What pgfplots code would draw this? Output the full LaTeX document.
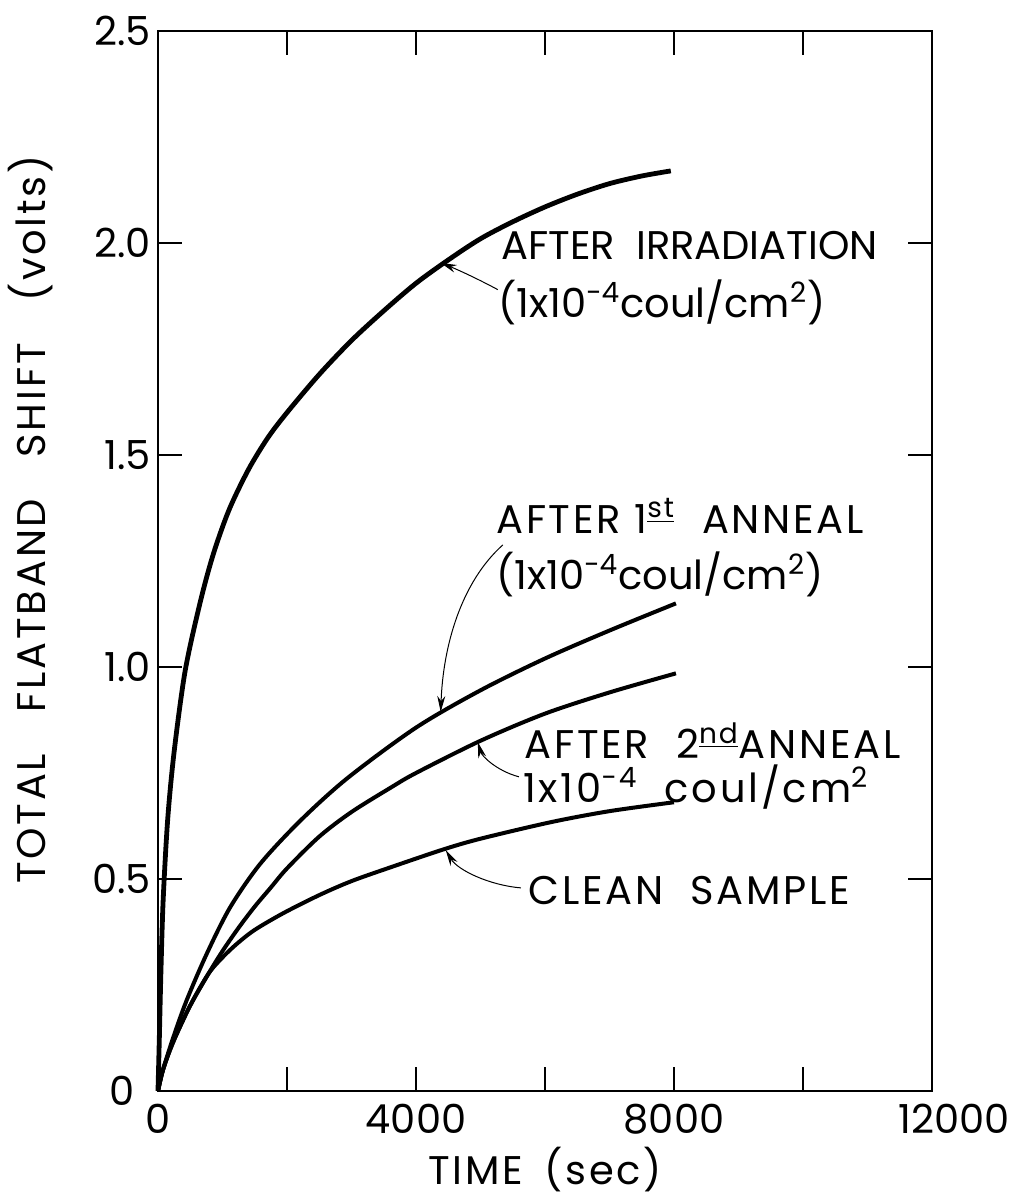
\documentclass[border=0pt]{standalone}
\usepackage{pgfplots}
\pgfplotsset{compat=1.18}
\usepackage{fontspec}
\setmainfont{Poppins}
\newfontfamily\wide[LetterSpace=7]{Poppins}
\usetikzlibrary{arrows.meta}
\newcommand{\bigf}{\fontsize{20}{24}\selectfont}
\begin{document}
\begin{tikzpicture}
\path[use as bounding box] (-79pt,-55.5pt) rectangle (431pt,545.5pt);
\begin{axis}[
  scale only axis, width=387pt, height=530pt,
  at={(0,0)}, anchor=south west,
  xmin=0, xmax=12000, ymin=0, ymax=2.5,
  xtick={0,2000,4000,6000,8000,10000,12000},
  xticklabels={0,,4000,,8000,,\hspace*{22pt}12000},
  ytick={0,0.5,1.0,1.5,2.0,2.5},
  yticklabels={0\hspace*{8pt},0.5,1.0,1.5,2.0,2.5},
  scaled x ticks=false,
  major tick length=12pt,
  axis line style={line width=1pt},
  every tick/.style={line width=0.8pt, black},
  tick label style={font=\bigf},
  xticklabel style={yshift=-3pt},
  /pgf/number format/assume math mode=true,
  label style={font=\bigf\wide},
  xlabel={TIME\hspace{4pt} (sec)},
  ylabel={TOTAL\hspace{14pt} FLATBAND\hspace{14pt} SHIFT\hspace{14pt} (volts)},
  xlabel style={at={(axis description cs:0.5,-0.0745)}, anchor=center},
  ylabel style={at={(axis description cs:-0.165,0.539)}, anchor=center},
  clip=false,
]
% After irradiation
\addplot[black, line width=2.4pt, smooth, tension=0.5] coordinates {
(0,0) (20,0.12) (45,0.28) (80,0.45) (150,0.64) (250,0.80) (420,0.99)
(650,1.15) (855,1.265) (1100,1.37) (1400,1.465) (1700,1.54) (2000,1.60)
(2500,1.69) (3000,1.77) (3500,1.84) (4000,1.905) (4500,1.96) (5000,2.01)
(5500,2.05) (6000,2.085) (6500,2.115) (7000,2.14) (7500,2.158) (7950,2.17)};
% After 1st anneal
\addplot[black, line width=2pt, smooth, tension=0.5] coordinates {
(0,0) (78,0.05) (234,0.125) (442,0.213) (754,0.323) (1118,0.433) (1586,0.536)
(2210,0.638) (2938,0.738) (4000,0.857) (5000,0.945) (6000,1.020) (7000,1.086)
(8030,1.150)};
% After 2nd anneal
\addplot[black, line width=2pt, smooth, tension=0.5] coordinates {
(0,0) (78,0.05) (234,0.115) (494,0.20) (780,0.276) (1000,0.33) (1250,0.385)
(1500,0.435) (1750,0.48) (2000,0.525) (2500,0.60) (3000,0.658) (3614,0.716)
(4000,0.75) (5000,0.826) (6000,0.89) (7000,0.94) (8030,0.985)};
% Clean sample
\addplot[black, line width=2pt, smooth, tension=0.5] coordinates {
(0,0) (78,0.05) (234,0.115) (494,0.20) (780,0.276) (1000,0.315) (1222,0.347)
(1500,0.38) (1950,0.42) (2500,0.462) (3000,0.495) (3614,0.528) (4430,0.57)
(5000,0.595) (6090,0.634) (7000,0.66) (8000,0.681)};

% labels
\node[anchor=base west, font=\bigf, inner sep=0pt] at (axis cs:5316,1.960) {AFTER~ IRRADIATION};
\node[anchor=base west, font=\bigf, inner sep=0pt] at (axis cs:5269,1.825) {(1x10\textsuperscript{-4}coul/cm\textsuperscript{2})};
\node[anchor=base west, font=\bigf\wide, inner sep=0pt] at (axis cs:5238,1.316) {AFTER 1\textsuperscript{\underline{st}}~ ANNEAL};
\node[anchor=base west, font=\bigf, inner sep=0pt] at (axis cs:5238,1.182) {(1x10\textsuperscript{-4}coul/cm\textsuperscript{2})};
\node[anchor=base west, font=\bigf\wide, inner sep=0pt] at (axis cs:5674,0.785) {AFTER~ 2\textsuperscript{\underline{nd}}ANNEAL};
\node[anchor=base west, font=\bigf\wide, inner sep=0pt] at (axis cs:5658,0.680) {1x10\textsuperscript{-4}~ coul/cm\textsuperscript{2}};
\node[anchor=base west, font=\bigf\wide, inner sep=0pt] at (axis cs:5736,0.439) {CLEAN~ SAMPLE};

% leaders
\draw[line width=0.5pt, -{Stealth[length=8pt,width=4pt]}] (axis cs:5268,1.890) .. controls (axis cs:4900,1.92) and (axis cs:4600,1.94) .. (axis cs:4383,1.953);
\draw[line width=0.5pt, -{Stealth[length=8pt,width=4pt]}] (axis cs:5347,1.288) .. controls (axis cs:4700,1.20) and (axis cs:4420,1.05) .. (axis cs:4383,0.894);
\draw[line width=0.5pt, -{Stealth[length=8pt,width=4pt]}] (axis cs:5596,0.741) .. controls (axis cs:5250,0.755) and (axis cs:5020,0.79) .. (axis cs:4958,0.823);
\draw[line width=0.5pt, -{Stealth[length=8pt,width=4pt]}] (axis cs:5627,0.479) .. controls (axis cs:5150,0.485) and (axis cs:4650,0.52) .. (axis cs:4461,0.568);
\end{axis}
\end{tikzpicture}
\end{document}
